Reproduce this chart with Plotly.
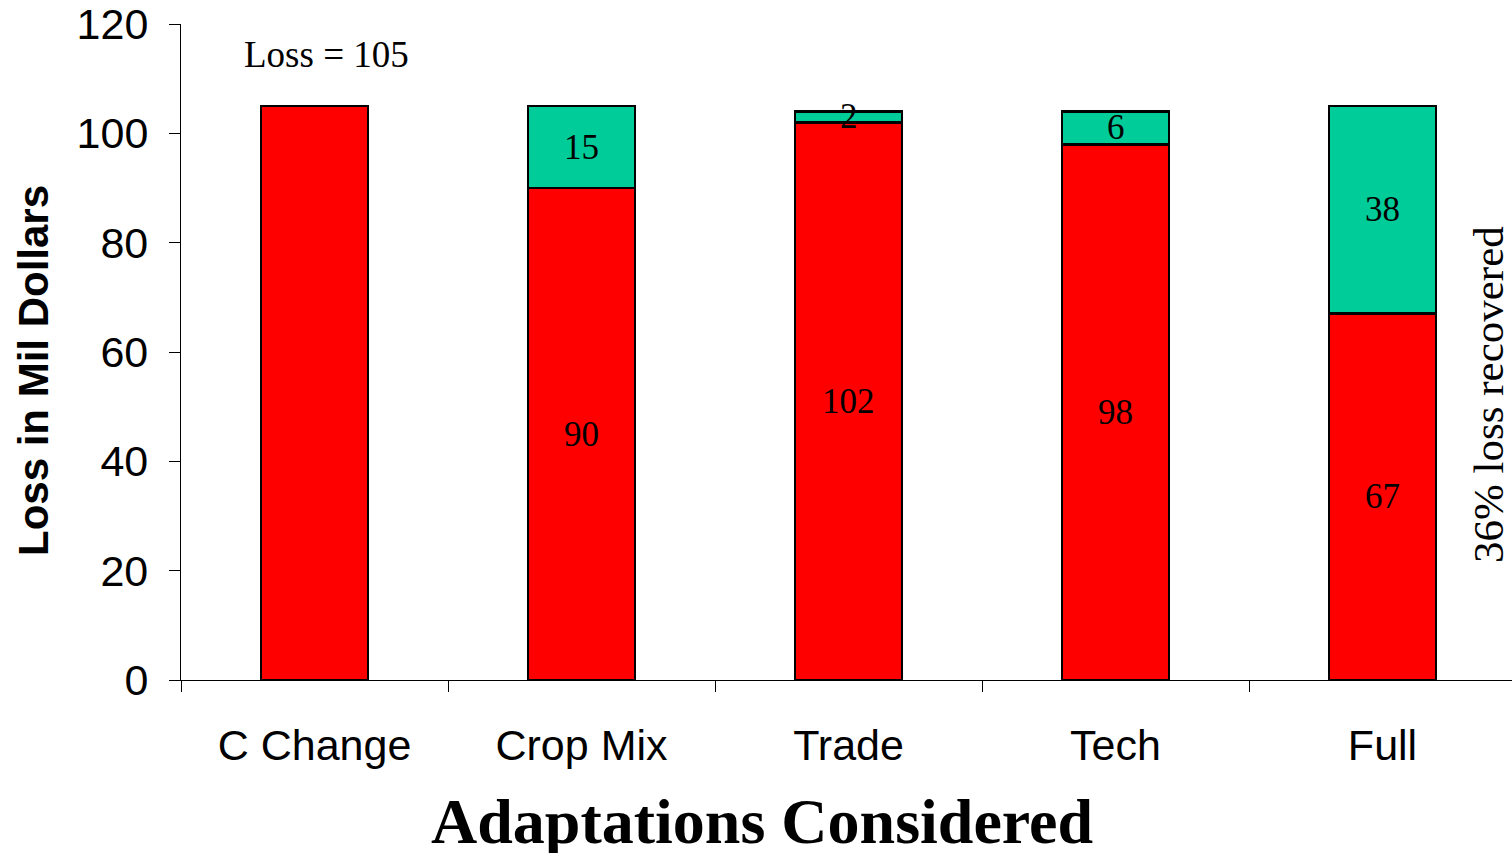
import plotly.graph_objects as go

# Economic loss under climate change and the share recovered by each adaptation
categories = ["C Change", "Crop Mix", "Trade", "Tech", "Full"]
remaining_loss = [105, 90, 102, 98, 67]
recovered = [0, 15, 2, 6, 38]
y_ticks = [0, 20, 40, 60, 80, 100, 120]

RED = "#FF0000"
GREEN = "#00CC99"
serif = "Liberation Serif, Times New Roman, serif"
sans = "Liberation Sans, Arial, sans-serif"

# plot area in pixels, used to place the free-standing notes
PLOT_L, PLOT_R, PLOT_T, PLOT_B = 181, 1512, 24, 680


def px_x(px):
    return (px - PLOT_L) / (PLOT_R - PLOT_L)


def px_y(px):
    return (PLOT_B - px) / (PLOT_B - PLOT_T)


fig = go.Figure()
fig.add_trace(go.Bar(
    x=categories, y=remaining_loss, name="Remaining loss",
    marker=dict(color=RED, line=dict(color="black", width=2.5)),
    width=0.4,
))
fig.add_trace(go.Bar(
    x=categories, y=recovered, name="Recovered",
    marker=dict(color=GREEN, line=dict(color="black", width=2.5)),
    width=0.4,
))

annotations = []
# value labels centred in each segment
for i, (cat, base, rec) in enumerate(zip(categories, remaining_loss, recovered)):
    if i == 0:
        continue
    annotations.append(dict(x=cat, y=base / 2, text=str(base), showarrow=False,
                            font=dict(family=serif, size=35, color="black")))
    annotations.append(dict(x=cat, y=base + rec / 2, text=str(rec), showarrow=False,
                            font=dict(family=serif, size=35, color="black")))

annotations.append(dict(x=px_x(326), xref="paper", xanchor="center",
                        y=px_y(55), yref="paper", yanchor="middle",
                        text="Loss = 105", showarrow=False,
                        font=dict(family=serif, size=37, color="black")))
annotations.append(dict(x=px_x(1488), xref="paper", xanchor="center",
                        y=px_y(395), yref="paper", yanchor="middle",
                        text="36% loss recovered", textangle=-90, showarrow=False,
                        font=dict(family=serif, size=43, color="black")))
annotations.append(dict(x=px_x(762), xref="paper", xanchor="center",
                        y=px_y(821), yref="paper", yanchor="middle", height=64,
                        text="<b>Adaptations Considered</b>", showarrow=False,
                        font=dict(family=serif, size=64, color="black")))
annotations.append(dict(x=px_x(33), xref="paper", xanchor="center",
                        y=px_y(371), yref="paper", yanchor="middle",
                        text="<b>Loss in Mil Dollars</b>", textangle=-90, showarrow=False,
                        font=dict(family=sans, size=42, color="black")))

fig.update_layout(
    barmode="stack",
    width=1512, height=855,
    margin=dict(l=PLOT_L, r=0, t=PLOT_T, b=855 - PLOT_B),
    paper_bgcolor="white", plot_bgcolor="white",
    showlegend=False,
    annotations=annotations,
    xaxis=dict(
        type="category", range=[-0.5, 4.485],
        showline=True, linecolor="black", linewidth=1.2,
        ticks="outside", tickson="boundaries", ticklen=11, tickcolor="black", tickwidth=1.2,
        ticklabelstandoff=27,
        tickfont=dict(family=sans, size=43, color="black"),
        showgrid=False, zeroline=False,
    ),
    yaxis=dict(
        range=[0, 120], tickvals=y_ticks,
        showline=True, linecolor="black", linewidth=1.2,
        ticks="outside", ticklen=11, tickcolor="black", tickwidth=1.2,
        ticklabelstandoff=12,
        tickfont=dict(family=sans, size=43, color="black"),
        showgrid=False, zeroline=False,
    ),
)

fig.write_html("out.html")
